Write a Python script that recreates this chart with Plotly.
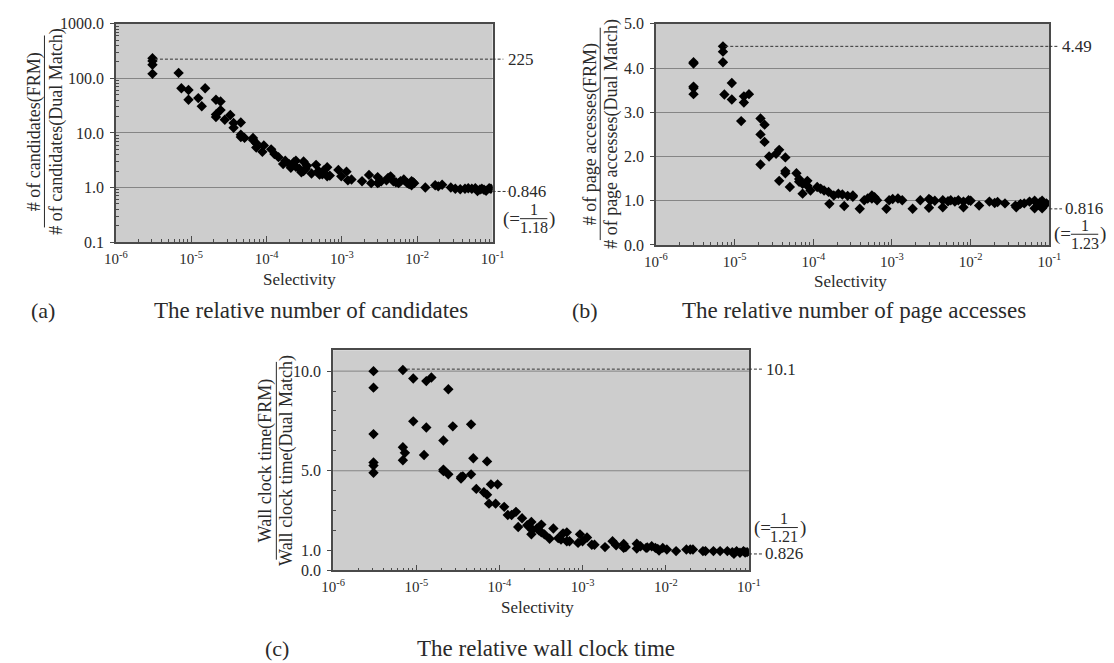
import math
import plotly.graph_objects as go

# ---------------- data ----------------
a_sel = [3.06e-6, 3.06e-6, 3.06e-6, 3.06e-6, 6.8e-6, 7.4e-6, 9.2e-6, 9.2e-6,
         1.24e-5, 1.38e-5, 1.53e-5, 2.13e-5, 2.13e-5, 2.13e-5, 2.45e-5, 2.45e-5,
         2.79e-5, 3.3e-5, 3.65e-5, 3.65e-5, 4.55e-5, 4.55e-5, 4.55e-5, 5.1e-5,
         6.6e-5, 6.6e-5, 7.3e-5, 7.3e-5, 8.8e-5, 9.2e-5, 1.15e-4, 1.27e-4,
         1.44e-4, 1.66e-4, 1.77e-4, 1.98e-4, 2.1e-4, 2.3e-4, 2.45e-4, 2.45e-4,
         2.72e-4, 2.9e-4, 3.1e-4, 3.1e-4, 3.3e-4, 3.44e-4, 3.95e-4, 4.54e-4,
         4.9e-4, 5.05e-4, 5.5e-4, 5.74e-4, 6.38e-4, 6.38e-4, 6.9e-4, 8.97e-4,
         9.8e-4, 1.15e-3, 1.2e-3, 1.34e-3, 1.85e-3, 2.29e-3, 2.45e-3, 2.98e-3,
         2.98e-3, 3.1e-3, 3.32e-3, 3.9e-3, 4.1e-3, 4.43e-3, 4.82e-3, 5.2e-3,
         5.65e-3, 6.0e-3, 6.63e-3, 7.38e-3, 7.8e-3, 8.4e-3, 8.4e-3, 8.8e-3,
         9.1e-3, 1.28e-2, 1.73e-2, 1.9e-2, 2.14e-2, 2.79e-2, 3.2e-2, 3.72e-2,
         4.3e-2, 4.75e-2, 5.3e-2, 5.9e-2, 6.3e-2, 6.8e-2, 7.2e-2, 7.7e-2,
         8.2e-2, 9.0e-2, 9.5e-2]
a_ratio = [234, 209, 178, 121, 126, 66, 61, 40.6,
           43.5, 30.8, 66, 40.6, 21.8, 19.5, 37.7, 26.2,
           17.4, 21.3, 15.2, 12.4, 15.5, 9.3, 8.4, 8.1,
           8.1, 7.4, 6.5, 5.4, 4.5, 5.9, 5.0, 4.1,
           3.6, 2.7, 3.1, 2.7, 2.3, 2.9, 3.1, 2.4,
           2.2, 1.9, 3.0, 2.0, 2.2, 2.5, 1.8, 2.6,
           2.0, 1.72, 1.75, 2.05, 2.35, 1.6, 1.65, 2.1,
           1.6, 1.95, 1.35, 1.4, 1.3, 1.7, 1.2, 1.55,
           1.2, 1.25, 1.3, 1.35, 1.5, 1.6, 1.3, 1.25,
           1.2, 1.3, 1.4, 1.2, 1.15, 1.3, 1.1, 1.25,
           1.2, 1.0, 1.1, 1.05, 1.12, 1.0, 0.95, 0.93,
           0.95, 0.97, 0.95, 0.97, 0.86, 0.92, 0.95, 0.91,
           0.87, 0.97, 0.95]

b_sel = [3.0e-6, 3.0e-6, 3.0e-6, 3.0e-6, 3.0e-6, 7.1e-6, 7.1e-6, 7.1e-6, 7.4e-6,
         9.2e-6, 9.2e-6, 1.21e-5, 1.31e-5, 1.31e-5, 1.52e-5, 2.13e-5, 2.13e-5,
         2.13e-5, 2.40e-5, 2.40e-5, 2.74e-5, 3.36e-5, 3.68e-5, 3.68e-5, 4.41e-5,
         4.41e-5, 4.41e-5, 5.03e-5, 6.1e-5, 6.6e-5, 6.6e-5, 7.3e-5, 7.3e-5,
         8.4e-5, 8.4e-5, 9.2e-5, 1.12e-4, 1.24e-4, 1.37e-4, 1.56e-4, 1.60e-4,
         1.82e-4, 2.08e-4, 2.34e-4, 2.47e-4, 2.73e-4, 3.18e-4, 3.18e-4, 3.89e-4,
         4.44e-4, 4.91e-4, 5.55e-4, 5.55e-4, 6.0e-4, 6.46e-4, 8.5e-4, 9.2e-4,
         1.02e-3, 1.19e-3, 1.35e-3, 1.83e-3, 2.29e-3, 2.95e-3, 2.95e-3, 3.10e-3,
         3.5e-3, 4.42e-3, 4.42e-3, 5.15e-3, 5.58e-3, 6.3e-3, 6.97e-3, 8.1e-3,
         8.1e-3, 9.4e-3, 1.0e-2, 1.28e-2, 1.73e-2, 2.02e-2, 2.2e-2, 2.73e-2,
         3.71e-2, 3.8e-2, 4.3e-2, 4.8e-2, 5.6e-2, 6.5e-2, 6.5e-2, 7.2e-2,
         7.6e-2, 8.1e-2, 8.1e-2, 8.6e-2, 9.2e-2]
b_ratio = [4.13, 4.10, 3.58, 3.55, 3.41, 4.49, 4.37, 4.13, 3.40,
           3.66, 3.29, 2.80, 3.22, 3.36, 3.41, 2.86, 2.50,
           1.82, 2.72, 2.33, 2.00, 2.06, 2.15, 1.45, 1.98,
           1.67, 1.62, 1.31, 1.62, 1.49, 1.43, 1.16, 1.38,
           1.45, 1.34, 1.23, 1.31, 1.27, 1.23, 1.20, 0.93,
           1.12, 1.16, 1.14, 0.88, 1.11, 1.09, 1.12, 0.82,
           1.01, 1.05, 1.12, 1.05, 1.08, 1.01, 0.82, 1.01,
           1.04, 1.05, 1.01, 0.82, 1.01, 1.04, 0.84, 1.01,
           1.00, 0.85, 1.01, 0.99, 1.01, 0.98, 1.01, 0.98,
           0.85, 1.01, 1.00, 0.89, 0.98, 0.95, 0.97, 0.94,
           0.89, 0.85, 0.93, 0.94, 0.98, 1.00, 0.83, 0.90,
           0.96, 1.00, 0.83, 0.90, 0.94]

c_sel = [3.06e-6, 3.06e-6, 3.06e-6, 3.06e-6, 3.06e-6, 3.06e-6, 6.9e-6, 6.9e-6,
         7.3e-6, 6.9e-6, 9.2e-6, 9.2e-6, 1.24e-5, 1.32e-5, 1.32e-5, 1.52e-5,
         2.12e-5, 2.12e-5, 2.12e-5, 2.43e-5, 2.43e-5, 2.75e-5, 3.45e-5, 3.45e-5,
         3.63e-5, 4.56e-5, 4.56e-5, 4.85e-5, 5.27e-5, 6.5e-5, 7.1e-5, 7.1e-5,
         7.5e-5, 7.9e-5, 9.0e-5, 9.5e-5, 1.14e-4, 1.26e-4, 1.40e-4, 1.58e-4,
         1.68e-4, 1.87e-4, 2.16e-4, 2.3e-4, 2.42e-4, 2.42e-4, 2.47e-4, 2.82e-4,
         3.0e-4, 3.19e-4, 3.19e-4, 3.47e-4, 4.01e-4, 4.45e-4, 5.09e-4, 5.5e-4,
         5.82e-4, 6.46e-4, 6.46e-4, 6.95e-4, 8.81e-4, 9.3e-4, 9.98e-4, 1.13e-3,
         1.29e-3, 1.39e-3, 1.86e-3, 2.29e-3, 2.53e-3, 3.12e-3, 3.12e-3, 3.3e-3,
         4.48e-3, 4.48e-3, 4.97e-3, 5.8e-3, 6.0e-3, 6.77e-3, 7.5e-3, 8.0e-3,
         8.3e-3, 9.2e-3, 1.03e-2, 1.33e-2, 1.77e-2, 1.97e-2, 2.12e-2, 2.80e-2,
         3.0e-2, 3.74e-2, 4.5e-2, 5.5e-2, 6.3e-2, 6.6e-2, 7.1e-2, 7.8e-2,
         8.6e-2, 9.0e-2, 9.5e-2]
c_ratio = [10.0, 9.17, 6.84, 5.42, 5.26, 4.90, 10.06, 6.18,
           5.9, 5.53, 9.63, 7.48, 5.79, 9.5, 7.17, 9.68,
           6.52, 5.06, 4.98, 9.09, 4.82, 7.23, 4.61, 4.69,
           4.72, 7.33, 4.82, 5.63, 4.09, 3.92, 5.47, 3.80,
           3.35, 4.32, 3.35, 4.32, 3.19, 2.78, 2.78, 2.94,
           2.18, 2.62, 2.27, 2.2, 2.43, 1.81, 2.02, 2.10,
           2.0, 2.30, 1.91, 1.81, 1.59, 2.10, 1.62, 1.55,
           1.86, 1.91, 1.46, 1.46, 1.38, 1.81, 1.46, 1.65,
           1.29, 1.29, 1.17, 1.46, 1.26, 1.33, 1.13, 1.17,
           1.34, 1.10, 1.21, 1.13, 1.15, 1.21, 1.13, 1.08,
           1.00, 1.13, 1.05, 0.97, 1.05, 1.05, 1.05, 0.97,
           0.97, 0.97, 0.97, 0.97, 0.92, 0.83, 0.97, 0.89,
           0.97, 0.90, 0.92]

x_ticks = [1e-6, 1e-5, 1e-4, 1e-3, 1e-2, 1e-1]
x_ticktext = ["10<sup>-6</sup>", "10<sup>-5</sup>", "10<sup>-4</sup>",
              "10<sup>-3</sup>", "10<sup>-2</sup>", "10<sup>-1</sup>"]
a_yticks = [0.1, 1, 10, 100, 1000]
a_yticktext = ["0.1", "1.0", "10.0", "100.0", "1000.0"]
b_yticks = [0, 1, 2, 3, 4, 5]
b_yticktext = ["0.0", "1.0", "2.0", "3.0", "4.0", "5.0"]
c_yticks = [0, 1, 5, 10]
c_yticktext = ["0.0", "1.0", "5.0", "10.0"]

a_max, a_min = 225, 0.846
b_max, b_min = 4.49, 0.816
c_max, c_min = 10.1, 0.826

# ---------------- layout helpers ----------------
W, H = 1114, 663
SERIF = "Liberation Serif"
BG = "#cdcdcd"
AX = "#4a4a4a"
TXT = "#2a2a2a"


def fx(p):
    return p / W


def fy(p):
    return 1 - p / H


A = (98, 483, 8, 232)
B = (650, 1052, 8, 235)
C = (320, 745, 343, 569)

minor_x = [m * 10 ** e for e in range(-6, -1) for m in range(2, 10)]
minor_log_y = [m * 10 ** e for e in range(-1, 3) for m in range(2, 10)]


def xaxis_def(box, anchor):
    return dict(domain=[fx(box[0]), fx(box[1])], anchor=anchor, type="log",
                range=[-6, -1], tickvals=x_ticks, ticktext=x_ticktext,
                ticks="inside", ticklen=6, tickcolor=AX, tickwidth=1,
                ticklabelstandoff=2, ticklabeloverflow="allow",
                minor=dict(tickvals=minor_x, ticks="inside", ticklen=3,
                           tickcolor=AX, showgrid=False),
                showline=True, linecolor=AX, linewidth=1.6, mirror=True,
                showgrid=False, zeroline=False,
                tickfont=dict(family=SERIF, size=15, color=TXT))


def yaxis_common(box, anchor):
    return dict(domain=[fy(box[3]), fy(box[2])], anchor=anchor,
                ticks="outside", ticklen=4, tickcolor=AX,
                ticklabelstandoff=3, ticklabeloverflow="allow",
                showline=True, linecolor=AX, linewidth=1.6, mirror=True,
                zeroline=False, gridcolor="#858585", gridwidth=1,
                tickfont=dict(family=SERIF, size=16, color=TXT))


fig = go.Figure()
mk = dict(symbol="diamond", size=8, color="black")
fig.add_trace(go.Scatter(x=a_sel, y=a_ratio, mode="markers", marker=mk,
                         xaxis="x", yaxis="y", showlegend=False))
fig.add_trace(go.Scatter(x=b_sel, y=b_ratio, mode="markers", marker=mk,
                         xaxis="x2", yaxis="y2", showlegend=False))
fig.add_trace(go.Scatter(x=c_sel, y=c_ratio, mode="markers", marker=mk,
                         xaxis="x3", yaxis="y3", showlegend=False))

ya = yaxis_common(A, "x")
ya.update(type="log", range=[-1, 3], tickvals=a_yticks, ticktext=a_yticktext,
          showgrid=True,
          minor=dict(tickvals=minor_log_y, ticks="inside", ticklen=3,
                     tickcolor=AX, showgrid=False))
yb = yaxis_common(B, "x2")
yb.update(range=[0, 5], tickvals=b_yticks, ticktext=b_yticktext, showgrid=True)
yc = yaxis_common(C, "x3")
yc.update(range=[0, 11.05], tickvals=c_yticks, ticktext=c_yticktext,
          showgrid=False,
          minor=dict(tickvals=[2, 3, 4, 6, 7, 8, 9], ticks="inside", ticklen=3,
                     tickcolor=AX, showgrid=False))

fig.update_layout(
    width=W, height=H, margin=dict(l=0, r=0, t=0, b=0),
    paper_bgcolor="white", plot_bgcolor=BG,
    xaxis=xaxis_def(A, "y"), yaxis=ya,
    xaxis2=xaxis_def(B, "y2"), yaxis2=yb,
    xaxis3=xaxis_def(C, "y3"), yaxis3=yc,
    font=dict(family=SERIF, color=TXT),
)

shapes = []
ann = []

# gridlines for panel (c) at 5 and 10 only
for v in (5, 10):
    shapes.append(dict(type="line", xref="x3 domain", yref="y3", x0=0, x1=1,
                       y0=v, y1=v, line=dict(color="#858585", width=1),
                       layer="below"))

DASH = dict(color="#333333", width=1, dash="3px,2px")


def ref_line(xa, ya_, box, start, val, end_px, label, label_px, log=False):
    width = box[1] - box[0]
    shapes.append(dict(type="line", xref=xa, yref=ya_, x0=start, x1=1e-1,
                       y0=val, y1=val, line=DASH))
    shapes.append(dict(type="line", xref=xa + " domain", yref=ya_, x0=1,
                       x1=1 + (end_px - box[1]) / width, y0=val, y1=val,
                       line=DASH))
    ann.append(dict(xref="paper", yref=ya_, x=fx(label_px),
                    y=math.log10(val) if log else val, text=label,
                    showarrow=False, xanchor="left", yanchor="middle",
                    font=dict(family=SERIF, size=17, color=TXT)))


def stub_line(xa, ya_, box, val, end_px, label, label_px, log=False):
    width = box[1] - box[0]
    shapes.append(dict(type="line", xref=xa + " domain", yref=ya_, x0=1,
                       x1=1 + (end_px - box[1]) / width, y0=val, y1=val,
                       line=DASH))
    ann.append(dict(xref="paper", yref=ya_, x=fx(label_px),
                    y=math.log10(val) if log else val, text=label,
                    showarrow=False, xanchor="left", yanchor="middle",
                    font=dict(family=SERIF, size=17, color=TXT)))


ref_line("x", "y", A, 3.3e-6, a_max, 494, str(a_max), 497, log=True)
stub_line("x", "y", A, a_min, 499, str(a_min), 497, log=True)
ref_line("x2", "y2", B, 7.6e-6, b_max, 1061, str(b_max), 1063)
stub_line("x2", "y2", B, b_min, 1065, str(b_min), 1066)
ref_line("x3", "y3", C, 7.7e-6, c_max, 759, str(c_max), 760)
stub_line("x3", "y3", C, c_min, 759, str(c_min), 759)


def fraction_note(left_px, cx_px, y_mid, denom, line_x0, line_x1, right_px):
    f = dict(family=SERIF, size=16, color=TXT)
    ann.append(dict(xref="paper", yref="paper", x=fx(left_px), y=fy(y_mid),
                    text="(=", showarrow=False, xanchor="left",
                    yanchor="middle", font=dict(family=SERIF, size=19, color=TXT)))
    ann.append(dict(xref="paper", yref="paper", x=fx(cx_px), y=fy(y_mid - 9),
                    text="1", showarrow=False, xanchor="center",
                    yanchor="middle", font=f))
    ann.append(dict(xref="paper", yref="paper", x=fx(cx_px), y=fy(y_mid + 9),
                    text=denom, showarrow=False, xanchor="center",
                    yanchor="middle", font=f))
    ann.append(dict(xref="paper", yref="paper", x=fx(right_px), y=fy(y_mid),
                    text=")", showarrow=False, xanchor="left",
                    yanchor="middle", font=dict(family=SERIF, size=19, color=TXT)))
    shapes.append(dict(type="line", xref="paper", yref="paper",
                       x0=fx(line_x0), x1=fx(line_x1), y0=fy(y_mid), y1=fy(y_mid),
                       line=dict(color=TXT, width=1)))


fraction_note(492, 525, 208, "1.18", 511, 539, 539)
fraction_note(1055, 1088, 224, "1.23", 1074, 1102, 1102)
fraction_note(748, 781, 525, "1.21", 767, 795, 795)


def y_title(top_txt, bot_txt, x_top, x_line, x_bot, y0, y1):
    ym = (y0 + y1) / 2
    f = dict(family=SERIF, size=18, color=TXT)
    ann.append(dict(xref="paper", yref="paper", x=fx(x_top), y=fy(ym),
                    text=top_txt, textangle=-90, showarrow=False,
                    xanchor="center", yanchor="middle", font=f))
    ann.append(dict(xref="paper", yref="paper", x=fx(x_bot), y=fy(ym),
                    text=bot_txt, textangle=-90, showarrow=False,
                    xanchor="center", yanchor="middle", font=f))
    shapes.append(dict(type="line", xref="paper", yref="paper",
                       x0=fx(x_line), x1=fx(x_line), y0=fy(y0), y1=fy(y1),
                       line=dict(color=TXT, width=1)))


y_title("# of candidates(FRM)", "# of candidates(Dual Match)", 15, 25, 37, 20, 217)
y_title("# of page accesses(FRM)", "# of page accesses(Dual Match)", 583, 593, 605, 12, 230)
y_title("Wall clock time(FRM)", "Wall clock time(Dual Match)", 251, 262, 273, 355, 558)


def text_at(txt, x_px, y_px, size, anchor="center"):
    ann.append(dict(xref="paper", yref="paper", x=fx(x_px), y=fy(y_px),
                    text=txt, showarrow=False, xanchor=anchor, yanchor="middle",
                    font=dict(family=SERIF, size=size, color=TXT)))


text_at("Selectivity", 286, 270, 17)
text_at("Selectivity", 849, 272, 17)
text_at("Selectivity", 529, 607, 17)

text_at("(a)", 9, 302, 22, "left")
text_at("The relative number of candidates", 297, 302, 23)
text_at("(b)", 562, 302, 22, "left")
text_at("The relative number of page accesses", 852, 302, 23)
text_at("(c)", 248, 649, 22, "left")
text_at("The relative wall clock time", 538, 649, 23)

fig.update_layout(shapes=shapes, annotations=ann)
fig.write_html("out.html")
